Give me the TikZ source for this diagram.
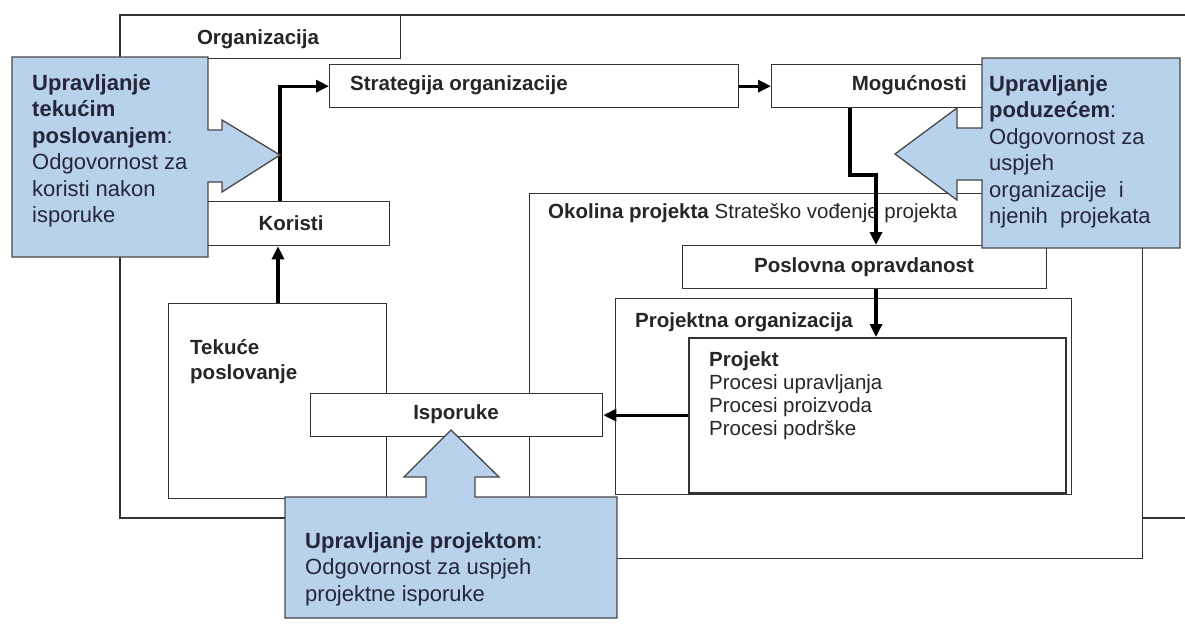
\documentclass[tikz,border=0pt]{standalone}
\usepackage{fontspec}
\setmainfont{Liberation Sans}
\usetikzlibrary{arrows.meta}
\definecolor{calloutblue}{HTML}{B9D2EC}
\definecolor{boxline}{HTML}{333333}
\definecolor{calltext}{HTML}{26263A}
\begin{document}
\begin{tikzpicture}[x=1pt,y=-1pt,
  box/.style={draw=boxline,fill=white,line width=1.3pt,inner sep=0pt,anchor=north west},
  lbl/.style={font=\fontsize{20.5}{25}\selectfont\bfseries,inner sep=0pt,text=black!85},
  plain/.style={font=\fontsize{20.5}{23}\selectfont,inner sep=0pt,text=black!85},
  ctext/.style={font=\fontsize{22}{26.5}\selectfont,inner sep=0pt,text=calltext,align=left,anchor=north west},
  flow/.style={line width=3.2pt,draw=black,-{Triangle[length=13pt,width=12pt]}},
  callout/.style={draw=boxline!90,fill=calloutblue,line width=1.3pt,line join=miter}
]
\useasboundingbox (0,0) rectangle (1185,625);
\clip (0,0) rectangle (1185,625);
\fill[white] (0,0) rectangle (1185,625);

% organisation outline (extends past the right edge)
\draw[boxline,line width=1.3pt] (1195,15) -- (120,15) -- (120,518) -- (1195,518);

% boxes
\node[box,minimum width=280pt,minimum height=43pt] (orglbl) at (120,15) {};
\node[box,minimum width=409pt,minimum height=43pt] (strat) at (329,64) {};
\node[box,minimum width=230pt,minimum height=43pt] (mog) at (771,64) {};
\node[box,minimum width=204pt,minimum height=44pt] (koristi) at (185,201) {};
\node[box,minimum width=218pt,minimum height=195pt] (teku) at (168,303) {};
\node[box,minimum width=613pt,minimum height=365pt] (okol) at (529,193) {};
\node[box,minimum width=364pt,minimum height=43pt] (posl) at (682,245) {};
\node[box,minimum width=456pt,minimum height=196pt] (projorg) at (615,298) {};
\node[box,minimum width=377pt,minimum height=155pt,line width=1.8pt] (proj) at (688,337) {};
\node[box,minimum width=292pt,minimum height=43pt] (ispo) at (310,393) {};

% labels
\node[lbl] (torg) at (258,39) {Organizacija};
\node[lbl,anchor=west] (tstrat) at (350,85) {Strategija organizacije};
\node[lbl,anchor=east] (tmog) at (967,85) {Mogućnosti};
\node[lbl] (tkor) at (291,223) {Koristi};
\node[lbl,anchor=north west,align=left] (tteku) at (190,339) {Tekuće\\poslovanje};
\node[plain,anchor=west] (tokol) at (548,213) {\textbf{Okolina projekta} Strateško vođenje projekta};
\node[lbl] (tposl) at (864,267) {Poslovna opravdanost};
\node[lbl,anchor=west] (tprojorg) at (635,322) {Projektna organizacija};
\node[plain,anchor=north west,align=left] (tproj) at (709,351) {\textbf{Projekt}\\Procesi upravljanja\\Procesi proizvoda\\Procesi podrške};
\node[lbl] (tispo) at (456,414) {Isporuke};

% connectors
\coordinate (b1) at (850,175);
\coordinate (b2) at (876,175);
\draw[flow] (teku.north -| 278,0) -- (koristi.south -| 278,0);
\draw[flow] (koristi.north -| 280,0) |- (strat.west);
\draw[flow] (strat.east) -- (mog.west);
\draw[flow] (mog.south -| b1) -- (b1) -- (b2) -- (posl.north -| b2);
\draw[flow] (posl.south -| b2) -- (proj.north -| b2);
\draw[flow] (proj.west |- ispo.east) -- (ispo.east);

% callouts
\draw[callout] (12,57) -- (208,57) -- (208,130) -- (222,130) -- (222,120) -- (280,155)
  -- (222,192) -- (222,182) -- (208,182) -- (208,257) -- (12,257) -- cycle;
\draw[callout] (982,58) -- (1180,58) -- (1180,248) -- (982,248) -- (982,180) -- (957,180)
  -- (957,200) -- (895,154) -- (957,108) -- (957,128) -- (982,128) -- cycle;
\draw[callout] (285,497) -- (426,497) -- (426,477) -- (404,477) -- (451,430) -- (499,477)
  -- (475,477) -- (475,497) -- (617,497) -- (617,618) -- (285,618) -- cycle;

\node[ctext] (tleft) at (32,74) {\textbf{Upravljanje}\\\textbf{tekućim}\\\textbf{poslovanjem}:\\Odgovornost za\\koristi nakon\\isporuke};
\node[ctext] (tright) at (989,75) {\textbf{Upravljanje}\\\textbf{poduzećem}:\\Odgovornost za\\uspjeh\\organizacije~~i\\njenih~~projekata};
\node[ctext] (tbottom) at (305,532) {\textbf{Upravljanje projektom}:\\Odgovornost za uspjeh\\projektne isporuke};
\end{tikzpicture}
\end{document}
